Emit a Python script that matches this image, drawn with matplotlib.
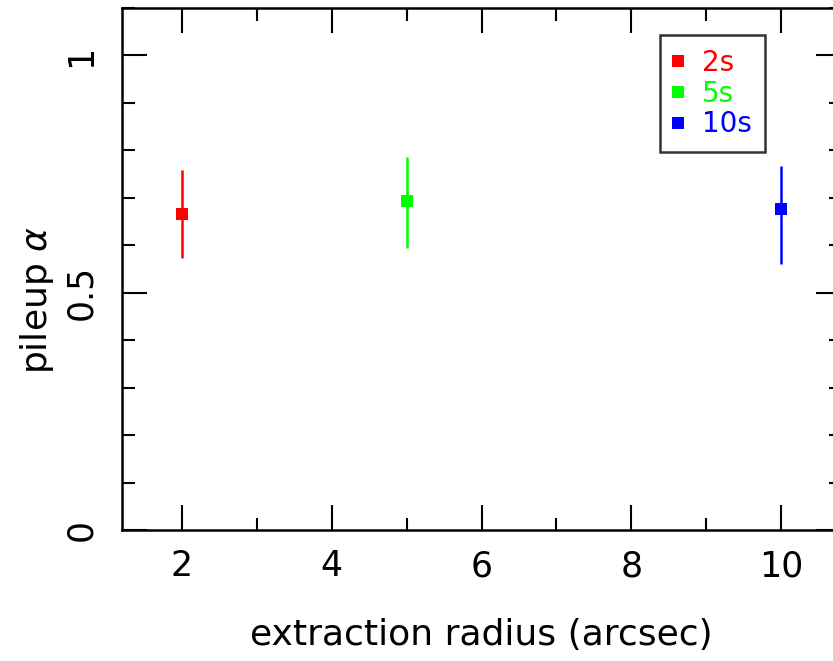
import matplotlib
matplotlib.use("Agg")
import matplotlib.pyplot as plt
from matplotlib.lines import Line2D
from matplotlib.ticker import MultipleLocator

# data
labels = ["2s", "5s", "10s"]
radius = [2, 5, 10]
alpha = [0.665, 0.694, 0.677]
alpha_hi = [0.759, 0.787, 0.768]
alpha_lo = [0.574, 0.595, 0.561]
colors = ["#ff0000", "#00ff00", "#0000ff"]

W, H = 833, 661
fig = plt.figure(figsize=(W / 100, H / 100), dpi=100)
ax = fig.add_axes([122 / W, 131 / H, (841 - 122) / W, (530 - 8) / H])

for x, y, hi, lo, c in zip(radius, alpha, alpha_hi, alpha_lo, colors):
    ax.errorbar([x], [y], yerr=[[y - lo], [hi - y]], fmt="s", color=c,
                ms=8.5, elinewidth=1.8, capsize=0, mew=0)

ax.set_xlim(1.2, 10.8)
ax.set_ylim(0, 1.1)
ax.xaxis.set_major_locator(MultipleLocator(2))
ax.xaxis.set_minor_locator(MultipleLocator(1))
ax.yaxis.set_minor_locator(MultipleLocator(0.1))
ax.set_yticks([0, 0.5, 1])
ax.set_yticklabels(["0", "0.5", "1"])

ax.tick_params(which="both", direction="in", top=True, right=True, width=1.5,
               labelsize=25, colors="black")
ax.tick_params(which="major", length=18)
ax.tick_params(which="minor", length=9)
ax.tick_params(axis="x", which="major", pad=14)
ax.tick_params(axis="y", which="major", pad=17)
for lab in ax.get_yticklabels():
    lab.set_rotation(90)
    lab.set_va("center")
for s in ax.spines.values():
    s.set_linewidth(1.8)

ax.set_xlabel("extraction radius (arcsec)", fontsize=26)
ax.xaxis.set_label_coords(0.5, (530 - 618) / 522)
ax.set_ylabel(r"pileup $\alpha$", fontsize=26)
ax.yaxis.set_label_coords((56 - 122) / 719, (530 - 300) / 522)

handles = [Line2D([], [], marker="s", ls="", color=c, ms=8.5, mew=0) for c in colors]
leg = ax.legend(handles, labels, loc="upper left",
                bbox_to_anchor=((660 - 122) / 719, (530 - 35) / 522),
                fontsize=20, labelcolor=colors, frameon=True, fancybox=False,
                edgecolor="black", handlelength=0.3, handletextpad=0.7,
                borderpad=0.5, labelspacing=0.1, borderaxespad=0)
leg.get_frame().set_linewidth(1.8)

fig.savefig("out.png", dpi=100)
